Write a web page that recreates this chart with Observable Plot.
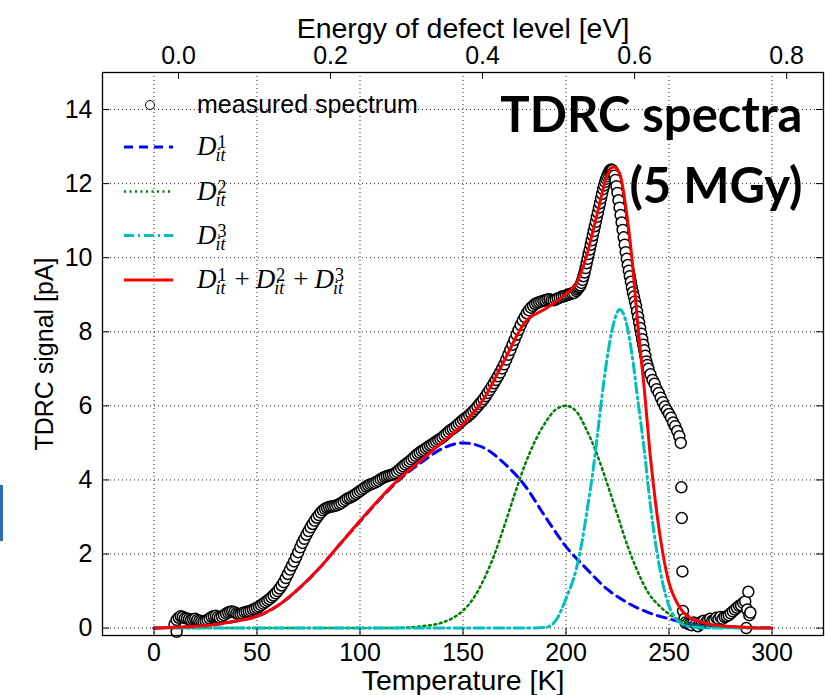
<!DOCTYPE html>
<html><head><meta charset="utf-8">
<script src="https://cdn.jsdelivr.net/npm/d3@7"></script>
<script src="https://cdn.jsdelivr.net/npm/@observablehq/plot@0.6"></script>
<style>
body{margin:0;background:#fff;}
#wrap{position:relative;width:825px;height:695px;overflow:hidden;background:#fff;}
#chart{position:absolute;left:0;top:0;}
#legend{position:absolute;left:0;top:0;}
#bar{position:absolute;left:0;top:485px;width:3px;height:56px;background:#2e6db0;}
</style></head><body>
<div id="wrap"><div id="chart"></div><svg id="legend" width="825" height="695" xmlns="http://www.w3.org/2000/svg"></svg><div id="bar"></div></div>
<script>
// ---- tick labels ----
const xTicks = [0, 50, 100, 150, 200, 250, 300];
const yTicks = [0, 2, 4, 6, 8, 10, 12, 14];
const energyTickLabels = ["0.0", "0.2", "0.4", "0.6", "0.8"];
const energyTickT = [11.9, 85.7, 159.5, 233.3, 307.1]; // temperature positions of the eV ticks

// ---- measured spectrum ----
const measuredT = [
  10,11,12,13,14,15,16,17,18,19,20,21,22,23,24,25,26,27,28,29,
  30,31,32,33,34,35,36,37,38,39,40,41,42,43,44,45,46,47,48,49,
  50,51,52,53,54,55,56,57,58,59,60,61,62,63,64,65,66,67,68,69,
  70,71,72,73,74,75,76,77,78,79,80,81,82,83,84,85,86,87,88,89,
  90,91,92,93,94,95,96,97,98,99,100,101,102,103,104,105,106,107,108,109,
  110,111,112,113,114,115,116,117,118,119,120,121,122,123,124,125,126,127,128,129,
  130,131,132,133,134,135,136,137,138,139,140,141,142,143,144,145,146,147,148,149,
  150,151,152,153,154,155,156,157,158,159,160,161,162,163,164,165,166,167,168,169,
  170,171,172,173,174,175,176,177,178,179,180,181,182,183,184,185,186,187,188,189,
  190,191,192,193,194,195,196,197,198,199,200,201,202,203,204,
  205,205.5,206,206.5,207,207.5,208,208.5,209,209.5,210,210.5,211,211.5,212,212.5,213,213.5,214,214.5,
  215,215.5,216,216.5,217,217.5,218,218.5,219,219.5,220,220.5,221,221.5,222,222.5,223,223.5,224,224.5,
  225,225.5,226,226.5,227,227.5,228,228.5,229,229.5,230,230.5,231,231.5,232,232.5,233,233.5,234,234.5,
  235,235.5,236,236.5,237,237.5,238,238.5,239,239.5,240,241,242,243,244,
  245,246,247,248,249,250,251,252,253,254,255,255.7,
  256,256.2,256.5,256.8,257.5,258,259,260,261,262,263,264,265,266,267,268,269,270,
  271,272,273,274,275,276,277,278,279,280,281,282,283,284,285,286,287,287.5,288,288.5,289,289.5,
  11
];
const measuredSignal = [
  0.10,0.22,0.28,0.32,0.30,0.27,0.26,0.24,0.22,0.24,0.25,0.22,0.20,0.19,0.18,0.20,0.22,0.26,0.30,0.32,
  0.33,0.30,0.28,0.31,0.35,0.39,0.42,0.44,0.45,0.43,0.40,0.38,0.38,0.40,0.43,0.44,0.45,0.47,0.50,0.52,
  0.55,0.58,0.62,0.66,0.70,0.74,0.78,0.83,0.88,0.94,1.00,1.07,1.15,1.24,1.35,1.46,1.58,1.69,1.80,1.92,
  2.05,2.18,2.30,2.41,2.52,2.62,2.72,2.81,2.90,2.98,3.05,3.12,3.18,3.22,3.25,3.27,3.28,3.29,3.30,3.32,
  3.35,3.38,3.42,3.46,3.50,3.52,3.55,3.58,3.62,3.66,3.70,3.74,3.78,3.82,3.85,3.88,3.90,3.92,3.95,3.98,
  4.02,4.05,4.08,4.10,4.12,4.13,4.15,4.18,4.22,4.27,4.32,4.37,4.42,4.46,4.50,4.55,4.60,4.65,4.70,4.74,
  4.78,4.81,4.85,4.89,4.93,4.96,5.00,5.04,5.08,5.11,5.15,5.20,5.25,5.30,5.35,5.38,5.42,5.47,5.52,5.57,
  5.62,5.66,5.70,5.75,5.80,5.86,5.92,5.98,6.05,6.11,6.18,6.26,6.35,6.43,6.52,6.61,6.70,6.80,6.90,7.01,
  7.12,7.25,7.38,7.51,7.65,7.78,7.92,8.05,8.18,8.30,8.40,8.50,8.58,8.65,8.70,8.75,8.78,8.80,8.82,8.84,
  8.85,8.87,8.88,8.86,8.85,8.87,8.90,8.92,8.95,8.96,8.98,9.00,9.02,9.04,9.05,
  9.10,9.14,9.18,9.21,9.25,9.32,9.40,9.50,9.60,9.72,9.85,9.97,10.10,10.22,10.35,10.47,10.60,10.72,10.85,10.97,
  11.10,11.22,11.35,11.47,11.60,11.72,11.85,11.95,12.05,12.13,12.20,12.26,12.32,12.36,12.38,12.36,12.30,12.21,12.10,11.93,
  11.75,11.55,11.35,11.15,10.95,10.75,10.55,10.35,10.15,9.97,9.80,9.65,9.50,9.35,9.20,9.07,8.95,8.82,8.70,8.55,
  8.40,8.25,8.10,7.95,7.80,7.65,7.50,7.35,7.20,7.10,7.00,6.85,6.70,6.60,6.45,
  6.35,6.22,6.10,5.98,5.88,5.78,5.68,5.55,5.45,5.32,5.18,5.00,
  3.80,2.97,1.53,0.46,0.25,0.15,0.12,0.10,0.08,0.15,0.10,0.05,0.12,0.18,0.20,0.15,0.22,0.25,
  0.20,0.22,0.28,0.25,0.30,0.25,0.30,0.32,0.35,0.40,0.45,0.50,0.55,0.60,0.62,0.68,0.72,0.00,0.50,0.98,0.35,0.42,
  -0.10
];

// ---- fitted components ----
const d1T = [0,10,20,30,40,50,60,70,80,90,100,110,120,130,140,150,160,170,180,190,200,210,220,230,240,250,260,270,280,300];
const d1Signal = [0,0.02,0.05,0.1,0.19,0.32,0.6,1.05,1.6,2.25,2.88,3.5,4.05,4.48,4.85,5.0,4.87,4.45,3.85,3.0,2.2,1.6,1.05,0.68,0.42,0.25,0.12,0.06,0.03,0.01];

const d2T = [0,50,100,110,120,130,140,145,150,155,160,165,170,175,180,185,190,195,200,205,210,215,220,225,230,235,240,245,250,255,260,270,300];
const d2Signal = [0,0,0,0,0.01,0.05,0.15,0.27,0.47,0.8,1.3,1.95,2.75,3.6,4.4,5.05,5.55,5.9,6.0,5.85,5.35,4.7,3.9,3.05,2.2,1.5,0.95,0.62,0.38,0.22,0.12,0.04,0];

const d3T = [0,50,100,150,180,190,195,200,205,208,210,213,215,218,220,223,226,229,232,235,238,241,244,247,250,253,256,260,270,300];
const d3Signal = [0,0,0,0,0,0.02,0.2,0.8,1.6,2.4,3.1,4.2,5.1,6.5,7.3,8.2,8.6,8.3,7.4,6.1,4.8,3.3,2.1,1.2,0.6,0.28,0.12,0.04,0,0];

const sumT = [0,10,20,30,40,50,60,70,80,90,100,110,120,130,140,150,160,170,180,190,200,205,210,215,220,223,226,229,232,235,238,241,244,247,250,253,256,260,265,270,280,290,300];
const sumSignal = [0,0.02,0.05,0.1,0.19,0.32,0.6,1.05,1.6,2.25,2.9,3.52,4.08,4.55,5.02,5.5,6.18,7.22,8.25,8.62,9.02,9.3,10.05,11.15,12.22,12.45,12.28,11.38,9.98,8.1,6.45,4.6,3.15,2.02,1.22,0.78,0.49,0.28,0.17,0.1,0.04,0.01,0];

// ---- build rows ----
const rows = (xs, ys) => xs.map((t, i) => ({T: t, v: ys[i]}));
const measured = rows(measuredT, measuredSignal);
const d1 = rows(d1T, d1Signal), d2 = rows(d2T, d2Signal), d3 = rows(d3T, d3Signal), dsum = rows(sumT, sumSignal);
const energyLabelByT = new Map(energyTickT.map((t, i) => [t, energyTickLabels[i]]));

const W = 825, H = 695, mL = 102, mR = 2, mT = 72, mB = 60;
const innerW = W - mL - mR, innerH = H - mT - mB;
const sans = "'Liberation Sans', Arial, sans-serif";

const styles = {
  d1: {stroke: "#0000ff", strokeWidth: 3, strokeDasharray: "9,6"},
  d2: {stroke: "#008000", strokeWidth: 2.5, strokeDasharray: "2,3.5"},
  d3: {stroke: "#00bfbf", strokeWidth: 3, strokeDasharray: "10,4,2,4"},
  sum: {stroke: "#ff0000", strokeWidth: 3}
};

const chart = Plot.plot({
  width: W, height: H,
  marginLeft: mL, marginRight: mR, marginTop: mT, marginBottom: mB,
  x: {domain: [-25, 325]},
  y: {domain: [-0.2, 15]},
  style: {fontFamily: sans, fontSize: "25px", color: "#000", background: "#fff", overflow: "visible"},
  marks: [
    Plot.gridX(xTicks, {stroke: "#000", strokeOpacity: 0.85, strokeWidth: 1, strokeDasharray: "1,3"}),
    Plot.gridY(yTicks, {stroke: "#000", strokeOpacity: 0.85, strokeWidth: 1, strokeDasharray: "1,3"}),
    Plot.dot(measured, {x: "T", y: "v", r: 5.5, stroke: "#000", strokeWidth: 1.5, fill: "#fff"}),
    Plot.line(d1, {x: "T", y: "v", curve: "monotone-x", ...styles.d1}),
    Plot.line(d2, {x: "T", y: "v", curve: "monotone-x", ...styles.d2}),
    Plot.line(d3, {x: "T", y: "v", curve: "monotone-x", ...styles.d3}),
    Plot.line(dsum, {x: "T", y: "v", curve: "monotone-x", ...styles.sum}),
    Plot.frame({stroke: "#000", strokeWidth: 1.3}),
    // inward ticks
    Plot.tickX(xTicks, {x: d => d, insetTop: innerH - 7, stroke: "#000", strokeWidth: 1}),
    Plot.tickX(energyTickT, {x: d => d, insetBottom: innerH - 7, stroke: "#000", strokeWidth: 1}),
    Plot.tickY(yTicks, {y: d => d, insetRight: innerW - 7, stroke: "#000", strokeWidth: 1}),
    Plot.tickY(yTicks, {y: d => d, insetLeft: innerW - 7, stroke: "#000", strokeWidth: 1}),
    // axes
    Plot.axisX({anchor: "bottom", ticks: xTicks, tickSize: 0, tickPadding: 8, label: null, tickFormat: d => String(d)}),
    Plot.axisX({anchor: "top", ticks: energyTickT, tickSize: 0, tickPadding: 9, label: null, tickFormat: d => energyLabelByT.get(d)}),
    Plot.axisY({anchor: "left", ticks: yTicks, tickSize: 0, tickPadding: 10, label: null, tickFormat: d => String(d)}),
    // axis labels
    Plot.text(["Temperature [K]"], {frameAnchor: "bottom", lineAnchor: "middle", textAnchor: "middle", dy: 45, fontSize: 28.5}),
    Plot.text(["Energy of defect level [eV]"], {frameAnchor: "top", lineAnchor: "middle", textAnchor: "middle", dy: -44, fontSize: 28.5}),
    Plot.text(["TDRC signal [pA]"], {frameAnchor: "left", lineAnchor: "middle", textAnchor: "middle", dx: -58, rotate: -90, fontSize: 25}),
    // title
    Plot.text(["TDRC spectra\n(5 MGy)"], {frameAnchor: "top-right", textAnchor: "end", lineAnchor: "top",
      dx: -21, dy: 9, fontSize: 49, fontWeight: "bold", fontFamily: "Lato, 'Open Sans', sans-serif", lineHeight: 1.45})
  ]
});
document.getElementById("chart").appendChild(chart);

// ---- legend (plain DOM) ----
const NS = "http://www.w3.org/2000/svg";
const lg = document.getElementById("legend");
function el(parent, tag, attrs, text) {
  const e = document.createElementNS(NS, tag);
  for (const k in attrs) if (attrs[k] != null) e.setAttribute(k, attrs[k]);
  if (text != null) e.textContent = text;
  parent.appendChild(e);
  return e;
}
const serif = "'Liberation Serif', 'DejaVu Serif', serif";
const rowY = [105, 147, 191.5, 235.5, 280];
const sx0 = 124, sx1 = 173, tx = 197;
el(lg, "circle", {cx: 150, cy: rowY[0], r: 4.5, fill: "#fff", stroke: "#000", "stroke-width": 1});
el(lg, "text", {x: tx, y: rowY[0] + 8, "font-family": sans, "font-size": 25}, "measured spectrum");

function sample(y, st) {
  el(lg, "line", {x1: sx0, x2: sx1, y1: y, y2: y, stroke: st.stroke, "stroke-width": st.strokeWidth,
    "stroke-dasharray": st.strokeDasharray || null});
}
// one text element per legend label: D with superscript index and subscript "it"
function mathLabel(y, sups) {
  const t = el(lg, "text", {x: tx, y: y + 8, "font-family": serif, "font-size": 27});
  sups.forEach((s, i) => {
    if (i > 0) el(t, "tspan", {dx: 9, dy: -6, "font-style": "normal"}, "+");
    el(t, "tspan", {dx: i > 0 ? 6 : 0, "font-style": "italic"}, "D");
    el(t, "tspan", {dx: 1, dy: -7, "font-size": 18, "font-style": "normal"}, s);
    el(t, "tspan", {dx: -11, dy: 13, "font-size": 18, "font-style": "italic"}, "it");
  });
}
sample(rowY[1], styles.d1); mathLabel(rowY[1], ["1"]);
sample(rowY[2], styles.d2); mathLabel(rowY[2], ["2"]);
sample(rowY[3], styles.d3); mathLabel(rowY[3], ["3"]);
sample(rowY[4], styles.sum); mathLabel(rowY[4], ["1", "2", "3"]);
</script>
</body></html>
